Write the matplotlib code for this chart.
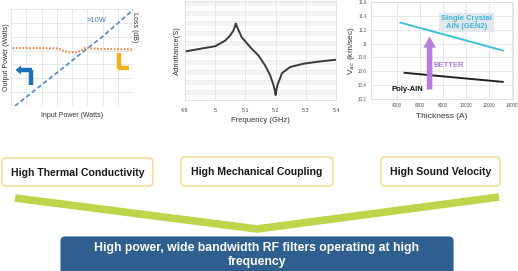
import matplotlib
matplotlib.use("Agg")
import matplotlib.pyplot as plt
from matplotlib.patches import FancyBboxPatch, Polygon
from matplotlib.lines import Line2D

plt.rcParams['font.family'] = ['Liberation Sans', 'DejaVu Sans']

W, H = 518, 271

# ---------- data ----------
# panel 1: power handling
input_power = [0.26, 2.0, 4.0, 6.0, 8.0]
output_power = [0.0, 1.52, 3.27, 5.01, 6.93]
loss_x = [0.1, 1.0, 2.0, 3.1, 3.5, 3.8, 4.3, 4.6, 4.9, 5.3, 6.0, 7.0, 8.0]
loss_db = [4.18, 4.18, 4.18, 4.15, 3.95, 3.88, 3.88, 3.98, 4.22, 4.15, 4.12, 4.10, 4.08]

# panel 2: admittance vs frequency
freq_ghz = [4.90, 4.95, 5.00, 5.033, 5.049, 5.060, 5.065, 5.068, 5.071, 5.075, 5.088,
            5.116, 5.143, 5.165, 5.182, 5.193, 5.198, 5.200, 5.202, 5.206, 5.221,
            5.248, 5.293, 5.348, 5.40]
admittance = [49.0, 51.7, 54.3, 60.0, 65.0, 70.0, 74.0, 77.3, 75.0, 72.0, 63.3,
              53.3, 45.0, 35.0, 25.0, 15.0, 9.0, 5.0, 9.0, 15.0, 27.0,
              33.3, 36.7, 39.0, 40.7]
freq_ticks = [4.9, 5.0, 5.1, 5.2, 5.3, 5.4]
freq_ticklabels = ['4.9', '5', '5.1', '5.2', '5.3', '5.4']

# panel 3: sound velocity vs thickness
single_thk = [4300, 13200]
single_vac = [11.30, 10.90]
poly_thk = [4660, 13200]
poly_vac = [10.58, 10.45]
arrow_thk = 6835
arrow_vac = [10.30, 11.14]
thk_ticks = [4000, 6000, 8000, 10000, 12000, 14000]
vac_ticks = [10.2, 10.4, 10.6, 10.8, 11.0, 11.2, 11.4, 11.6]
vac_ticklabels = ['10.2', '10.4', '10.6', '10.8', '11', '11.2', '11.4', '11.6']

# lower part
properties = ['High Thermal Conductivity', 'High Mechanical Coupling', 'High Sound Velocity']
result_lines = ['High power, wide bandwidth RF filters operating at high', 'frequency']

# ---------- figure ----------
fig = plt.figure(figsize=(W / 100, H / 100), dpi=100)
fig.patch.set_facecolor('white')


def box(x0, y0, x1, y1):
    return [x0 / W, 1 - y1 / H, (x1 - x0) / W, (y1 - y0) / H]


grid_c = '#e4e4e4'

# panel 1
ax1 = fig.add_axes(box(11, 9, 133, 106))
ax1.set_xlim(0, 8)
ax1.set_ylim(0, 7)
ax1.set_xticks(range(0, 9))
ax1.set_yticks(range(0, 8))
ax1.grid(True, color=grid_c, lw=0.6)
ax1.tick_params(length=0, labelbottom=False, labelleft=False)
for s in ax1.spines.values():
    s.set_visible(False)
ax1.plot(input_power, output_power, color='#5b8fc9', lw=1.3, ls=(0, (2.5, 1.5)))
ax1.set_xlabel('Input Power (Watts)', fontsize=5, labelpad=4, color='#333333')
ax1.set_ylabel('Output Power (Watts)', fontsize=5, labelpad=1, color='#333333')
ax1b = ax1.twinx()
ax1b.set_ylim(0, 7)
ax1b.tick_params(length=0, labelright=False)
for s in ax1b.spines.values():
    s.set_visible(False)
ax1b.plot(loss_x, loss_db, color='#e8894a', lw=1.5, ls=(0, (0.8, 0.8)))
ax1b.set_ylabel('Loss (dB)', fontsize=5, rotation=-90, labelpad=6, color='#333333')
ax1b.yaxis.set_label_coords(1.04, 0.81)
ax1.text(5.6, 6.2, '>10W', fontsize=5.5, color='#4a7fc1', ha='center', va='center')

# panel 2
ax2 = fig.add_axes(box(185, 1, 336, 100))
ax2.set_xlim(4.9, 5.4)
ax2.set_ylim(0, 100)
for k in range(0, 100, 10):
    ax2.axhspan(k + 5, k + 10, color='#f4f4f4', lw=0, zorder=0)
    ax2.axhline(k, color='#ececec', lw=0.4, zorder=0)
ax2.set_xticks(freq_ticks)
ax2.set_xticklabels(freq_ticklabels)
ax2.set_yticks([])
ax2.grid(True, axis='x', color=grid_c, lw=0.6)
ax2.tick_params(length=0, labelsize=3.8, pad=6, colors='#444444')
for s in ax2.spines.values():
    s.set_color('#dddddd')
    s.set_linewidth(0.6)
ax2.plot(freq_ghz, admittance, color='#3a3a3a', lw=1.4)
ax2.set_xlabel('Frequency (GHz)', fontsize=5.5, labelpad=3, color='#333333')
ax2.set_ylabel('Admittance(S)', fontsize=5.5, labelpad=3, color='#333333')

# panel 3
ax3 = fig.add_axes(box(371, 1.7, 513, 99.3))
ax3.set_xlim(1740, 14090)
ax3.set_ylim(10.2, 11.6)
ax3.set_xticks(thk_ticks)
ax3.set_yticks(vac_ticks)
ax3.set_yticklabels(vac_ticklabels)
ax3.grid(True, color=grid_c, lw=0.6)
ax3.tick_params(length=0, labelsize=3.3, pad=3, colors='#555555')
for s in ax3.spines.values():
    s.set_color('#dddddd')
    s.set_linewidth(0.6)
ax3.plot(single_thk, single_vac, color='#3fc0dc', lw=1.4)
ax3.plot(poly_thk, poly_vac, color='#222222', lw=1.4)
ax3.annotate('', xy=(arrow_thk, arrow_vac[1]), xytext=(arrow_thk, arrow_vac[0]),
             arrowprops=dict(arrowstyle='simple,head_width=0.9,head_length=0.8,tail_width=0.4',
                             color='#b57edc', lw=0))
ax3.text(8540, 10.69, 'BETTER', fontsize=5.5, fontweight='bold', color='#b57edc',
         ha='center', va='center')
ax3.text(4900, 10.34, 'Poly-AlN', fontsize=5.5, fontweight='bold', color='#111111',
         ha='center', va='center')
ax3.text(10030, 11.3, 'Single Crystal\nAlN (GEN2)', fontsize=5.5, fontweight='bold',
         color='#3fb6dc', ha='center', va='center', linespacing=1.1,
         bbox=dict(boxstyle='square,pad=0.3', fc='#e4e8ec', ec='none'))
ax3.set_xlabel('Thickness (A)', fontsize=6, labelpad=3, color='#333333')
ax3.set_ylabel('V$_{ac}$ (km/sec)', fontsize=6, labelpad=1, color='#333333')

# overlay for diagram
ov = fig.add_axes([0, 0, 1, 1], zorder=5)
ov.set_xlim(0, W)
ov.set_ylim(H, 0)
ov.axis('off')
ov.patch.set_alpha(0)

# blue turn arrow glyph and orange L glyph (panel 1 decorations)
ov.add_line(Line2D([30.5, 30.5], [70, 85], color='#1f6fb5', lw=3.2, solid_capstyle='butt'))
ov.add_line(Line2D([20, 32], [70, 70], color='#1f6fb5', lw=3.2, solid_capstyle='butt'))
ov.add_patch(Polygon([[15.5, 70], [21, 65.5], [21, 74.5]], closed=True, color='#1f6fb5', lw=0))
ov.add_line(Line2D([119, 119], [53, 69], color='#f2b01e', lw=3.2, solid_capstyle='butt'))
ov.add_line(Line2D([117.5, 128.5], [67.5, 67.5], color='#f2b01e', lw=3.2, solid_capstyle='butt'))

# property boxes
prop_boxes = [(2, 158, 153, 186), (181, 157, 333, 186), (381, 157, 500, 186)]
for (x0, y0, x1, y1), label in zip(prop_boxes, properties):
    ov.add_patch(FancyBboxPatch((x0, y0), x1 - x0, y1 - y0,
                                boxstyle='round,pad=0,rounding_size=4',
                                fc='white', ec='#f3d784', lw=1.0))
    ov.text((x0 + x1) / 2, (y0 + y1) / 2 + 0.5, label, fontsize=7.6, fontweight='bold',
            color='#1a1a1a', ha='center', va='center')

# green V connector
ov.add_line(Line2D([15, 257, 499], [198, 229, 197], color='#bcd64c', lw=5.5,
                   solid_joinstyle='miter', solid_capstyle='butt'))

# result box
ov.add_patch(FancyBboxPatch((61, 237), 392, 40, boxstyle='round,pad=0,rounding_size=4',
                            fc='#2e5f8f', ec='#2e5f8f', lw=0.8))
ov.text(257, 247.5, result_lines[0], fontsize=8.8, fontweight='bold', color='white',
        ha='center', va='center')
ov.text(257, 262, result_lines[1], fontsize=8.8, fontweight='bold', color='white',
        ha='center', va='center')

fig.savefig('out.png', dpi=100)
